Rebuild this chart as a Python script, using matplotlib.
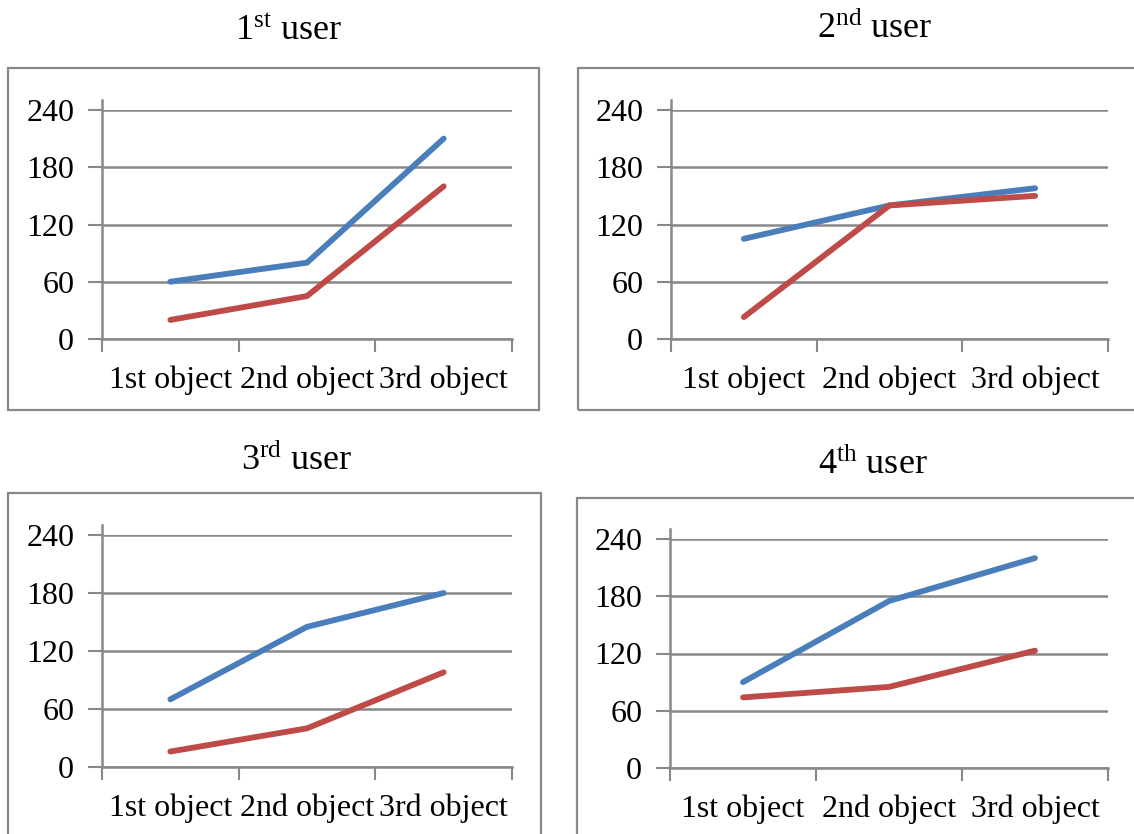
import matplotlib.pyplot as plt
from matplotlib.patches import Rectangle

# -------- values per user --------
objects = ["1st object", "2nd object", "3rd object"]
users = ["1", "2", "3", "4"]
suffixes = ["st", "nd", "rd", "th"]
blue_series = [
	[60, 80, 210],
	[105, 140, 158],
	[70, 145, 180],
	[90, 175, 220],
]
red_series = [
	[20, 45, 160],
	[23, 140, 150],
	[16, 40, 98],
	[74, 85, 123],
]
y_ticks = [0, 60, 120, 180, 240]

plt.rcParams['font.family'] = ['Liberation Serif', 'DejaVu Serif']
plt.rcParams['mathtext.fontset'] = 'custom'
plt.rcParams['mathtext.rm'] = 'Liberation Serif'
plt.rcParams['mathtext.it'] = 'Liberation Serif:italic'

W, H = 1134, 834
fig = plt.figure(figsize=(W / 100, H / 100), dpi=100)
gray = '#888888'

def px_box(left, top, right, bottom):
	# pixel box (origin top-left) -> figure fraction [x, y, w, h]
	return [left / W, (H - bottom) / H, (right - left) / W, (bottom - top) / H]

axes_boxes = [
	px_box(102, 110, 512, 339),
	px_box(671, 110, 1108, 339),
	px_box(102, 535, 512, 767),
	px_box(670, 539, 1108, 768),
]
frame_boxes = [
	px_box(8, 68, 539, 410),
	px_box(578, 68, 1145, 410),
	px_box(8, 493, 541, 845),
	px_box(577, 498, 1145, 845),
]
title_pos = [(288, 31), (875, 29), (297, 461), (873, 465)]

for k in range(4):
	fx, fy, fw, fh = frame_boxes[k]
	fig.patches.append(Rectangle((fx, fy), fw, fh, transform=fig.transFigure,
		fill=False, edgecolor=gray, linewidth=1.6, clip_on=False))

	tx, ty = title_pos[k]
	fig.text(tx / W, 1 - ty / H, r'$%s^{\mathrm{%s}}$ user' % (users[k], suffixes[k]),
		fontsize=26, ha='center', va='center')

	ax = fig.add_axes(axes_boxes[k])
	xs = [i + 0.5 for i in range(len(objects))]
	ax.plot(xs, blue_series[k], color='#4a7ebb', linewidth=4.2, solid_capstyle='round', zorder=3)
	ax.plot(xs, red_series[k], color='#be4b48', linewidth=4.2, solid_capstyle='round', zorder=3)

	ax.set_xlim(0, len(objects))
	ax.set_ylim(0, 240)
	ax.set_xticks(range(len(objects) + 1))
	ax.set_xticklabels([])
	ax.set_xticks(xs, minor=True)
	ax.set_xticklabels(objects, minor=True)
	ax.set_yticks(y_ticks)
	ax.set_yticklabels([str(v) for v in y_ticks])

	ax.tick_params(axis='x', which='major', direction='out', length=9, width=1.5, color=gray)
	ax.tick_params(axis='x', which='minor', length=0, pad=19, labelsize=23)
	ax.tick_params(axis='y', direction='out', length=10, width=1.5, color=gray, pad=10, labelsize=23)

	ax.yaxis.grid(True, color=gray, linewidth=1.8)
	ax.set_axisbelow(True)
	for side in ['top', 'right']:
		ax.spines[side].set_visible(False)
	for side in ['left', 'bottom']:
		ax.spines[side].set_color(gray)
		ax.spines[side].set_linewidth(1.8)
	ax.spines['left'].set_bounds(0, 250)

fig.savefig('out.png', dpi=100)
